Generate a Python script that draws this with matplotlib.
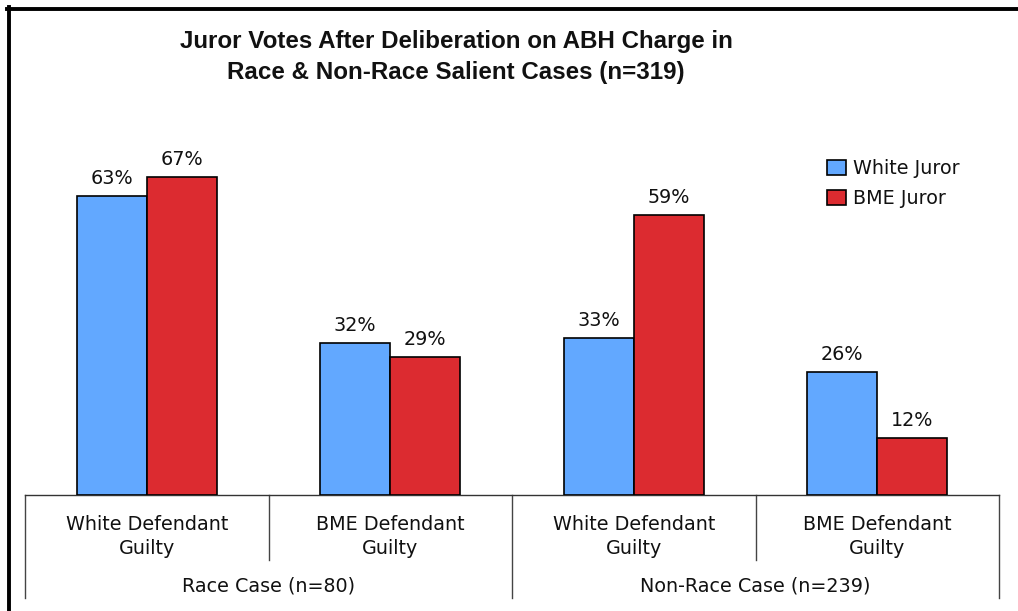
import matplotlib
matplotlib.use("Agg")
import matplotlib.pyplot as plt
from matplotlib.lines import Line2D
from matplotlib.transforms import blended_transform_factory
import numpy as np

# Data
categories = ["White Defendant\nGuilty", "BME Defendant\nGuilty",
              "White Defendant\nGuilty", "BME Defendant\nGuilty"]
groups = ["Race Case (n=80)", "Non-Race Case (n=239)"]
white_juror = [63, 32, 33, 26]
bme_juror = [67, 29, 59, 12]
series_names = ["White Juror", "BME Juror"]

BLUE = "#62A8FF"
RED = "#DC2B30"
FS = 13.8

W, H = 1018, 611
fig = plt.figure(figsize=(W / 100, H / 100), dpi=100)
fig.patch.set_facecolor("white")

def fx(px):
    return px / W

def fy(py):
    return 1 - py / H

ax_left, ax_right, ax_top, ax_bottom = 25, 999, 100, 495
ax = fig.add_axes([fx(ax_left), fy(ax_bottom), fx(ax_right - ax_left),
                   (ax_bottom - ax_top) / H])

x = np.arange(len(categories))
bw = 0.2875
b1 = ax.bar(x - bw / 2, white_juror, bw, color=BLUE, edgecolor="black",
            linewidth=1.2, label=series_names[0], zorder=3)
b2 = ax.bar(x + bw / 2, bme_juror, bw, color=RED, edgecolor="black",
            linewidth=1.2, label=series_names[1], zorder=3)

for bars, vals in ((b1, white_juror), (b2, bme_juror)):
    for rect, v in zip(bars, vals):
        ax.annotate(f"{v}%", (rect.get_x() + rect.get_width() / 2, v),
                    xytext=(0, 8.5), textcoords="offset points",
                    ha="center", va="baseline", fontsize=FS,
                    color="#111111", family="DejaVu Sans")

ax.set_xlim(-0.5, len(categories) - 0.5)
ax.set_ylim(0, (ax_bottom - ax_top) / 4.75)
for s in ("top", "right", "left"):
    ax.spines[s].set_visible(False)
ax.spines["bottom"].set_color("#333333")
ax.spines["bottom"].set_linewidth(1.0)
ax.set_xticks([])
ax.set_yticks([])

# Two-level category axis
trans = blended_transform_factory(ax.transData, ax.transAxes)
axh = ax_bottom - ax_top

def ay(py):
    return (ax_bottom - py) / axh

for i in range(len(categories) + 1):
    xb = i - 0.5
    end = 598 if i % 2 == 0 else 560
    ax.add_line(Line2D([xb, xb], [0, ay(end)], transform=trans,
                       color="#444444", lw=1.0, clip_on=False))

for xi, lab in zip(x, categories):
    ax.text(xi, ay(536.5), lab, transform=trans, ha="center", va="center",
            fontsize=FS, color="#111111", linespacing=1.38,
            family="DejaVu Sans")

for gi, g in enumerate(groups):
    ax.text(2 * gi + 0.5, ay(586), g, transform=trans, ha="center",
            va="center", fontsize=FS, color="#111111", family="DejaVu Sans")

# Legend
leg = ax.legend(loc="upper left", bbox_to_anchor=(fx(814), fy(146)),
                bbox_transform=fig.transFigure, frameon=False,
                prop={"family": "DejaVu Sans", "size": FS},
                handlelength=0.95, handleheight=0.8, handletextpad=0.4,
                labelspacing=0.55, borderpad=0.2)
for t in leg.get_texts():
    t.set_color("#111111")

# Title
fig.text(fx(456), fy(57), "Juror Votes After Deliberation on ABH Charge in\n"
         "Race & Non-Race Salient Cases (n=319)",
         ha="center", va="center", fontsize=17.4, fontweight="bold",
         family="Liberation Sans", linespacing=1.4, color="#111111")

# Outer frame
fig.add_artist(Line2D([fx(7), fx(W + 5)], [fy(9), fy(9)],
                      transform=fig.transFigure, color="black", lw=2.8))
fig.add_artist(Line2D([fx(9), fx(9)], [fy(7), fy(H + 5)],
                      transform=fig.transFigure, color="black", lw=2.8))

fig.savefig("out.png", dpi=100, facecolor="white")
